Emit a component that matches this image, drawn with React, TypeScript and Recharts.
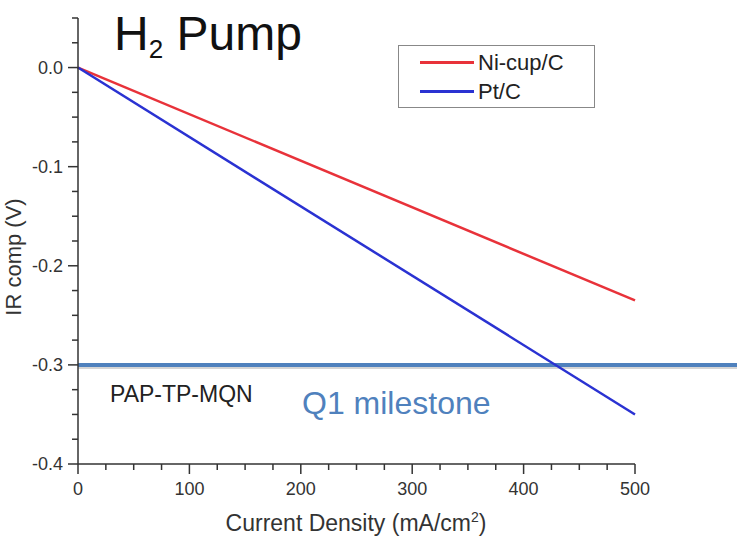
import { LineChart, Line, XAxis, YAxis, ReferenceLine, Legend } from 'recharts';

const nickelData = [
  { x: 0, v: 0 },
  { x: 500, v: -0.235 },
];
const platinumData = [
  { x: 0, v: 0 },
  { x: 500, v: -0.35 },
];
const milestone = -0.3;

const xTicks = [0, 25, 50, 75, 100, 125, 150, 175, 200, 225, 250, 275, 300, 325, 350, 375, 400, 425, 450, 475, 500];
const yTicks = [-0.4, -0.375, -0.35, -0.325, -0.3, -0.275, -0.25, -0.225, -0.2, -0.175, -0.15, -0.125, -0.1, -0.075, -0.05, -0.025, 0, 0.025, 0.05];

const FONT = '"Liberation Sans", Arial, sans-serif';
const AXIS = '#333';

const legendItems = [
  { name: 'Ni-cup/C', color: '#e8323a' },
  { name: 'Pt/C', color: '#2a32d2' },
];

function YTick({ x, y, payload }: any) {
  const v = payload.value;
  const major = Math.abs(v * 10 - Math.round(v * 10)) < 1e-6;
  return (
    <g>
      <line x1={x - (major ? 10 : 6)} x2={x} y1={y} y2={y} stroke={AXIS} strokeWidth={1.5} />
      {major && (
        <text x={x - 15} y={y + 6} textAnchor="end" fontSize={18} fill={AXIS} fontFamily={FONT}>
          {v.toFixed(1)}
        </text>
      )}
    </g>
  );
}

function XTick({ x, y, payload }: any) {
  const v = payload.value;
  const major = v % 100 === 0;
  return (
    <g>
      <line x1={x} x2={x} y1={y} y2={y + (major ? 10 : 6)} stroke={AXIS} strokeWidth={1.5} />
      {major && (
        <text x={x} y={y + 31} textAnchor="middle" fontSize={18} fill={AXIS} fontFamily={FONT}>
          {v}
        </text>
      )}
    </g>
  );
}

function MilestoneLine(props: any) {
  const { x1, y1 } = props;
  return (
    <g>
      <line x1={x1} x2={737} y1={y1 + 2.5} y2={y1 + 2.5} stroke="#888" strokeOpacity={0.35} strokeWidth={3} />
      <line x1={x1} x2={737} y1={y1} y2={y1} stroke="#4f81bd" strokeWidth={4} />
    </g>
  );
}

function LegendBox() {
  return (
    <div style={{ width: 197, height: 63, border: '1px solid #888', boxSizing: 'border-box', fontFamily: FONT, fontSize: 22, color: '#222', paddingTop: 2 }}>
      {legendItems.map((it) => (
        <div key={it.name} style={{ display: 'flex', alignItems: 'center', height: 29 }}>
          <div style={{ width: 54, height: 3, background: it.color, marginLeft: 21, marginRight: 4 }} />
          <span>{it.name}</span>
        </div>
      ))}
    </div>
  );
}

export default function App() {
  return (
    <div style={{ position: 'absolute', left: 0, top: 0, width: 737, height: 539, background: '#fff' }}>
      <LineChart width={737} height={539} margin={{ top: 18, right: 102, left: 0, bottom: 0 }}>
        <XAxis
          dataKey="x"
          type="number"
          domain={[0, 500]}
          ticks={xTicks}
          interval={0}
          tickSize={0}
          tickMargin={0}
          tick={<XTick />}
          height={75}
          axisLine={{ stroke: AXIS, strokeWidth: 1.5 }}
        />
        <YAxis
          type="number"
          domain={[-0.4, 0.05]}
          ticks={yTicks}
          interval={0}
          tickSize={0}
          tickMargin={0}
          tick={<YTick />}
          width={78}
          axisLine={{ stroke: AXIS, strokeWidth: 1.5 }}
          allowDataOverflow
        />
        <ReferenceLine y={milestone} shape={<MilestoneLine />} zIndex={300} />
        <Line data={nickelData} dataKey="v" name="Ni-cup/C" stroke="#e8323a" strokeWidth={2.5} dot={false} isAnimationActive={false} />
        <Line data={platinumData} dataKey="v" name="Pt/C" stroke="#2a32d2" strokeWidth={2.5} dot={false} isAnimationActive={false} />
        <Legend
          layout="horizontal"
          verticalAlign="middle"
          align="center"
          content={<LegendBox />}
          wrapperStyle={{ position: 'absolute', left: 398, top: 45, width: 197, height: 63 }}
        />
        <text x={114} y={50} fontSize={48} fontFamily={FONT} fill="#111">
          H<tspan fontSize={26} dy={8}>2</tspan>
          <tspan dy={-8}> Pump</tspan>
        </text>
        <text x={110} y={402} fontSize={23} fontFamily={FONT} fill="#222">PAP-TP-MQN</text>
        <text x={302} y={414} fontSize={32} fontFamily={FONT} fill="#4f81bd">Q1 milestone</text>
        <text x={356} y={531} fontSize={23} textAnchor="middle" fontFamily={FONT} fill={AXIS}>
          Current Density (mA/cm<tspan fontSize={14} dy={-9}>2</tspan>
          <tspan dy={9}>)</tspan>
        </text>
        <text x={21} y={257} fontSize={22} textAnchor="middle" fontFamily={FONT} fill={AXIS} transform="rotate(-90 21 257)">
          IR comp (V)
        </text>
      </LineChart>
    </div>
  );
}
